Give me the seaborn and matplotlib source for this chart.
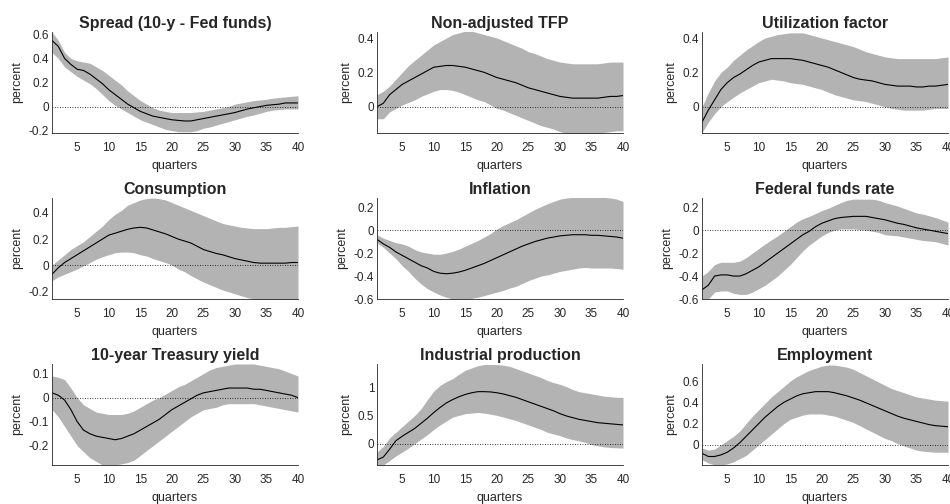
import numpy as np
import pandas as pd
import matplotlib
matplotlib.use("Agg")
import matplotlib.pyplot as plt
import seaborn as sns
from matplotlib.ticker import FuncFormatter, MultipleLocator

# horizon in quarters
quarters = list(range(1, 41))

titles = ["Spread (10-y - Fed funds)", "Non-adjusted TFP", "Utilization factor",
          "Consumption", "Inflation", "Federal funds rate",
          "10-year Treasury yield", "Industrial production", "Employment"]

# median response and error bands
spread_mid = [0.55, 0.50, 0.40, 0.35, 0.31, 0.30, 0.27, 0.23, 0.19, 0.14,
              0.10, 0.06, 0.02, -0.01, -0.04, -0.06, -0.08, -0.09, -0.10, -0.11,
              -0.115, -0.12, -0.12, -0.11, -0.10, -0.09, -0.08, -0.07, -0.06, -0.05,
              -0.035, -0.02, -0.01, 0.0, 0.01, 0.015, 0.02, 0.03, 0.03, 0.03]
spread_hi = [0.62, 0.55, 0.45, 0.40, 0.38, 0.37, 0.36, 0.33, 0.30, 0.26,
             0.22, 0.18, 0.13, 0.09, 0.05, 0.02, -0.01, -0.03, -0.04, -0.05,
             -0.05, -0.05, -0.05, -0.045, -0.04, -0.03, -0.02, -0.01, 0.0, 0.02,
             0.03, 0.04, 0.05, 0.055, 0.06, 0.07, 0.075, 0.08, 0.085, 0.09]
spread_lo = [0.45, 0.40, 0.33, 0.29, 0.25, 0.22, 0.19, 0.15, 0.10, 0.05,
             0.01, -0.02, -0.05, -0.08, -0.11, -0.13, -0.15, -0.17, -0.19, -0.20,
             -0.21, -0.21, -0.21, -0.20, -0.18, -0.17, -0.155, -0.14, -0.125, -0.11,
             -0.095, -0.08, -0.07, -0.055, -0.04, -0.03, -0.025, -0.02, -0.02, -0.02]

tfp_mid = [0.0, 0.02, 0.07, 0.10, 0.13, 0.15, 0.17, 0.19, 0.21, 0.23,
           0.235, 0.24, 0.24, 0.235, 0.23, 0.22, 0.21, 0.20, 0.185, 0.17,
           0.16, 0.15, 0.14, 0.125, 0.11, 0.10, 0.09, 0.08, 0.07, 0.06,
           0.055, 0.05, 0.05, 0.05, 0.05, 0.05, 0.055, 0.06, 0.06, 0.065]
tfp_hi = [0.07, 0.09, 0.12, 0.16, 0.20, 0.24, 0.27, 0.30, 0.33, 0.36,
          0.38, 0.40, 0.42, 0.43, 0.44, 0.44, 0.43, 0.42, 0.41, 0.40,
          0.385, 0.37, 0.355, 0.34, 0.32, 0.31, 0.295, 0.28, 0.27, 0.26,
          0.255, 0.25, 0.25, 0.25, 0.25, 0.25, 0.255, 0.26, 0.26, 0.26]
tfp_lo = [-0.07, -0.07, -0.03, -0.01, 0.01, 0.025, 0.04, 0.06, 0.075, 0.09,
          0.10, 0.10, 0.095, 0.085, 0.07, 0.055, 0.04, 0.03, 0.01, -0.01,
          -0.02, -0.035, -0.05, -0.065, -0.08, -0.095, -0.11, -0.12, -0.13, -0.145,
          -0.155, -0.16, -0.16, -0.16, -0.16, -0.155, -0.15, -0.145, -0.14, -0.14]

util_mid = [-0.09, -0.02, 0.04, 0.10, 0.14, 0.17, 0.19, 0.215, 0.24, 0.26,
            0.27, 0.28, 0.28, 0.28, 0.28, 0.275, 0.27, 0.26, 0.25, 0.24,
            0.23, 0.215, 0.20, 0.185, 0.17, 0.16, 0.155, 0.15, 0.14, 0.13,
            0.125, 0.12, 0.12, 0.12, 0.115, 0.115, 0.12, 0.12, 0.125, 0.13]
util_hi = [0.0, 0.08, 0.15, 0.20, 0.23, 0.27, 0.30, 0.33, 0.355, 0.38,
           0.40, 0.41, 0.42, 0.425, 0.43, 0.43, 0.43, 0.42, 0.41, 0.40,
           0.39, 0.38, 0.37, 0.36, 0.35, 0.335, 0.32, 0.31, 0.30, 0.29,
           0.285, 0.28, 0.28, 0.28, 0.28, 0.28, 0.28, 0.28, 0.285, 0.29]
util_lo = [-0.15, -0.09, -0.04, 0.0, 0.03, 0.055, 0.08, 0.10, 0.12, 0.14,
           0.15, 0.16, 0.155, 0.15, 0.14, 0.135, 0.13, 0.12, 0.11, 0.10,
           0.085, 0.07, 0.06, 0.05, 0.04, 0.035, 0.03, 0.02, 0.01, 0.0,
           -0.01, -0.015, -0.02, -0.02, -0.02, -0.02, -0.015, -0.01, -0.01, -0.01]

cons_mid = [-0.07, -0.02, 0.02, 0.05, 0.08, 0.11, 0.14, 0.17, 0.20, 0.23,
            0.245, 0.26, 0.275, 0.285, 0.29, 0.285, 0.27, 0.255, 0.24, 0.22,
            0.20, 0.185, 0.17, 0.145, 0.12, 0.105, 0.09, 0.08, 0.065, 0.05,
            0.04, 0.03, 0.02, 0.015, 0.015, 0.015, 0.015, 0.015, 0.02, 0.02]
cons_hi = [0.0, 0.04, 0.08, 0.12, 0.15, 0.18, 0.22, 0.26, 0.30, 0.35,
           0.39, 0.42, 0.46, 0.48, 0.50, 0.51, 0.515, 0.51, 0.50, 0.48,
           0.46, 0.44, 0.42, 0.40, 0.38, 0.36, 0.34, 0.32, 0.31, 0.30,
           0.29, 0.285, 0.28, 0.28, 0.28, 0.285, 0.29, 0.29, 0.295, 0.30]
cons_lo = [-0.12, -0.09, -0.07, -0.05, -0.03, -0.005, 0.02, 0.045, 0.065, 0.08,
           0.095, 0.10, 0.10, 0.095, 0.08, 0.07, 0.05, 0.035, 0.02, 0.0,
           -0.03, -0.05, -0.08, -0.105, -0.13, -0.15, -0.17, -0.19, -0.205, -0.22,
           -0.235, -0.25, -0.26, -0.265, -0.27, -0.27, -0.27, -0.27, -0.27, -0.27]

infl_mid = [-0.08, -0.12, -0.15, -0.19, -0.22, -0.25, -0.28, -0.31, -0.33, -0.36,
            -0.375, -0.38, -0.375, -0.365, -0.35, -0.33, -0.31, -0.29, -0.265, -0.24,
            -0.215, -0.19, -0.165, -0.14, -0.12, -0.10, -0.085, -0.07, -0.06, -0.05,
            -0.045, -0.04, -0.04, -0.04, -0.045, -0.045, -0.05, -0.055, -0.06, -0.07]
infl_hi = [-0.04, -0.07, -0.09, -0.11, -0.12, -0.14, -0.17, -0.19, -0.20, -0.21,
           -0.21, -0.20, -0.185, -0.165, -0.14, -0.115, -0.09, -0.06, -0.03, 0.01,
           0.04, 0.065, 0.09, 0.12, 0.15, 0.18, 0.205, 0.23, 0.25, 0.27,
           0.28, 0.285, 0.29, 0.29, 0.29, 0.29, 0.285, 0.28, 0.27, 0.25]
infl_lo = [-0.11, -0.15, -0.20, -0.25, -0.31, -0.36, -0.42, -0.47, -0.51, -0.54,
           -0.565, -0.585, -0.60, -0.60, -0.60, -0.595, -0.585, -0.57, -0.555, -0.54,
           -0.525, -0.505, -0.49, -0.465, -0.44, -0.42, -0.40, -0.39, -0.375, -0.36,
           -0.35, -0.34, -0.33, -0.325, -0.33, -0.33, -0.33, -0.33, -0.335, -0.34]

ffr_mid = [-0.52, -0.48, -0.40, -0.39, -0.39, -0.40, -0.40, -0.38, -0.35, -0.32,
           -0.28, -0.24, -0.20, -0.16, -0.12, -0.08, -0.04, -0.01, 0.03, 0.06,
           0.08, 0.10, 0.11, 0.115, 0.12, 0.12, 0.12, 0.11, 0.10, 0.09,
           0.075, 0.06, 0.05, 0.035, 0.02, 0.01, 0.0, -0.01, -0.02, -0.03]
ffr_hi = [-0.40, -0.36, -0.30, -0.28, -0.28, -0.28, -0.27, -0.24, -0.20, -0.16,
          -0.12, -0.085, -0.05, -0.01, 0.03, 0.07, 0.10, 0.12, 0.145, 0.17,
          0.19, 0.215, 0.24, 0.26, 0.27, 0.27, 0.27, 0.27, 0.26, 0.24,
          0.225, 0.21, 0.19, 0.17, 0.15, 0.14, 0.125, 0.11, 0.09, 0.07]
ffr_lo = [-0.60, -0.60, -0.54, -0.53, -0.53, -0.55, -0.56, -0.56, -0.54, -0.51,
          -0.48, -0.44, -0.40, -0.35, -0.30, -0.24, -0.18, -0.13, -0.09, -0.05,
          -0.02, 0.0, 0.01, 0.01, 0.01, 0.005, 0.0, -0.01, -0.02, -0.04,
          -0.045, -0.05, -0.06, -0.07, -0.08, -0.09, -0.095, -0.10, -0.115, -0.13]

tsy_mid = [0.02, 0.01, -0.01, -0.05, -0.10, -0.135, -0.15, -0.16, -0.165, -0.17,
           -0.175, -0.17, -0.16, -0.15, -0.135, -0.12, -0.105, -0.09, -0.07, -0.05,
           -0.035, -0.02, -0.005, 0.01, 0.02, 0.025, 0.03, 0.035, 0.04, 0.04,
           0.04, 0.04, 0.035, 0.035, 0.03, 0.025, 0.02, 0.015, 0.01, 0.0]
tsy_hi = [0.09, 0.085, 0.075, 0.04, 0.0, -0.03, -0.045, -0.06, -0.065, -0.07,
          -0.07, -0.07, -0.065, -0.055, -0.04, -0.025, -0.01, 0.0, 0.015, 0.03,
          0.045, 0.055, 0.07, 0.085, 0.10, 0.115, 0.125, 0.13, 0.135, 0.14,
          0.14, 0.14, 0.14, 0.135, 0.13, 0.125, 0.12, 0.11, 0.10, 0.09]
tsy_lo = [-0.05, -0.08, -0.12, -0.16, -0.20, -0.225, -0.25, -0.265, -0.28, -0.28,
          -0.28, -0.275, -0.27, -0.26, -0.24, -0.22, -0.20, -0.18, -0.16, -0.14,
          -0.12, -0.10, -0.08, -0.065, -0.05, -0.045, -0.04, -0.03, -0.025, -0.025,
          -0.025, -0.025, -0.025, -0.03, -0.035, -0.04, -0.045, -0.05, -0.055, -0.06]

ip_mid = [-0.29, -0.24, -0.10, 0.05, 0.13, 0.20, 0.27, 0.36, 0.45, 0.55,
          0.64, 0.72, 0.78, 0.83, 0.87, 0.90, 0.92, 0.92, 0.915, 0.90,
          0.88, 0.85, 0.82, 0.78, 0.74, 0.70, 0.66, 0.62, 0.58, 0.53,
          0.49, 0.46, 0.43, 0.41, 0.39, 0.37, 0.36, 0.35, 0.34, 0.33]
ip_hi = [-0.15, -0.05, 0.10, 0.20, 0.30, 0.40, 0.50, 0.62, 0.78, 0.93,
         1.03, 1.10, 1.15, 1.23, 1.30, 1.34, 1.38, 1.40, 1.40, 1.40,
         1.39, 1.37, 1.33, 1.29, 1.25, 1.21, 1.17, 1.12, 1.08, 1.05,
         1.01, 0.96, 0.92, 0.90, 0.88, 0.86, 0.84, 0.83, 0.82, 0.82]
ip_lo = [-0.38, -0.38, -0.30, -0.22, -0.15, -0.08, 0.0, 0.08, 0.16, 0.25,
         0.33, 0.40, 0.47, 0.50, 0.53, 0.54, 0.55, 0.54, 0.52, 0.50,
         0.47, 0.44, 0.41, 0.37, 0.33, 0.29, 0.25, 0.20, 0.17, 0.14,
         0.10, 0.07, 0.05, 0.02, -0.02, -0.04, -0.06, -0.07, -0.075, -0.08]

emp_mid = [-0.08, -0.11, -0.11, -0.095, -0.07, -0.03, 0.02, 0.08, 0.14, 0.20,
           0.26, 0.31, 0.36, 0.40, 0.43, 0.46, 0.48, 0.49, 0.50, 0.50,
           0.50, 0.49, 0.475, 0.46, 0.44, 0.42, 0.395, 0.37, 0.345, 0.32,
           0.295, 0.27, 0.25, 0.235, 0.22, 0.205, 0.19, 0.18, 0.175, 0.17]
emp_hi = [-0.03, -0.05, -0.04, 0.0, 0.04, 0.08, 0.13, 0.20, 0.27, 0.33,
          0.39, 0.45, 0.50, 0.55, 0.60, 0.64, 0.67, 0.70, 0.72, 0.74,
          0.75, 0.75, 0.74, 0.73, 0.71, 0.68, 0.65, 0.62, 0.59, 0.56,
          0.53, 0.51, 0.49, 0.47, 0.45, 0.44, 0.43, 0.42, 0.415, 0.41]
emp_lo = [-0.14, -0.17, -0.19, -0.19, -0.18, -0.16, -0.13, -0.10, -0.05, 0.0,
          0.05, 0.10, 0.15, 0.20, 0.24, 0.26, 0.28, 0.29, 0.29, 0.29,
          0.28, 0.27, 0.25, 0.23, 0.21, 0.18, 0.15, 0.12, 0.09, 0.06,
          0.04, 0.01, -0.01, -0.03, -0.05, -0.06, -0.065, -0.07, -0.07, -0.07]

series = [(spread_mid, spread_lo, spread_hi), (tfp_mid, tfp_lo, tfp_hi),
          (util_mid, util_lo, util_hi), (cons_mid, cons_lo, cons_hi),
          (infl_mid, infl_lo, infl_hi), (ffr_mid, ffr_lo, ffr_hi),
          (tsy_mid, tsy_lo, tsy_hi), (ip_mid, ip_lo, ip_hi),
          (emp_mid, emp_lo, emp_hi)]

# y ranges and tick steps per panel (matlab-like tight limits)
ylims = [(-0.22, 0.62), (-0.153, 0.435), (-0.153, 0.435),
         (-0.26, 0.515), (-0.6, 0.28), (-0.6, 0.28),
         (-0.28, 0.14), (-0.38, 1.41), (-0.19, 0.76)]
ysteps = [0.2, 0.2, 0.2, 0.2, 0.2, 0.2, 0.1, 0.5, 0.2]

sns.set_style("white")
plt.rcParams["font.family"] = ["Liberation Sans", "DejaVu Sans"]
plt.rcParams["axes.unicode_minus"] = False

fig = plt.figure(figsize=(9.5, 5.04), dpi=100)

W, H = 950, 504
lefts = [52, 377, 702]
tops = [32, 198, 364]
aw, ah = 246, 101
ink = "#262626"

for i, (title, (mid, lo, hi)) in enumerate(zip(titles, series)):
    r, c = divmod(i, 3)
    ax = fig.add_axes([lefts[c] / W, 1 - (tops[r] + ah) / H, aw / W, ah / H])
    df = pd.DataFrame({"quarter": quarters, "mid": mid, "lo": lo, "hi": hi})
    ax.fill_between(df["quarter"], df["lo"], df["hi"], color="#b3b3b3", lw=0)
    sns.lineplot(data=df, x="quarter", y="mid", ax=ax, color="black", lw=0.8)
    ax.axhline(0, color="black", ls=(0, (1, 2)), lw=0.6)
    ax.set_xlim(1, 40)
    ax.set_ylim(*ylims[i])
    ax.xaxis.set_major_locator(MultipleLocator(5))
    ax.yaxis.set_major_locator(MultipleLocator(ysteps[i]))
    ax.yaxis.set_major_formatter(FuncFormatter(lambda v, p: f"{v:g}" if abs(v) > 1e-9 else "0"))
    ax.tick_params(direction="in", length=2.5, width=0.6, colors=ink, labelsize=8.5)
    ax.tick_params(axis="x", pad=6.5)
    ax.tick_params(axis="y", pad=2)
    for s in ["top", "right"]:
        ax.spines[s].set_visible(False)
    for s in ["left", "bottom"]:
        ax.spines[s].set_color(ink)
        ax.spines[s].set_linewidth(0.6)
    ax.set_title(title, fontsize=11.5, fontweight="bold", pad=3)
    ax.set_xlabel("quarters", fontsize=9, color=ink, labelpad=4)
    ax.set_ylabel("percent", fontsize=9, color=ink, labelpad=4)

fig.savefig("out.png", dpi=100)
